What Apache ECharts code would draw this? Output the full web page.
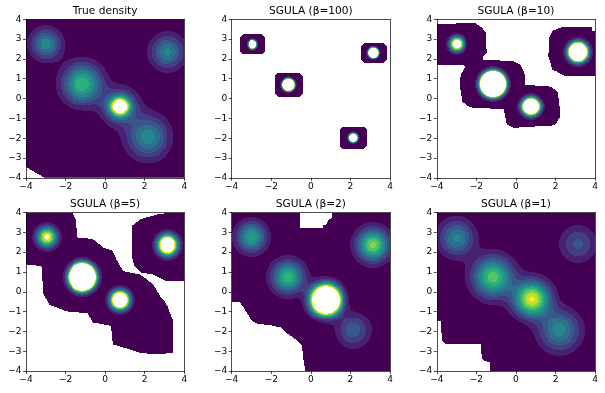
<!DOCTYPE html>
<html><head><meta charset="utf-8">
<script src="https://cdn.jsdelivr.net/npm/echarts@6/dist/echarts.min.js"></script>
<style>html,body{margin:0;padding:0;background:#fff}#c{width:605px;height:393px}</style>
</head><body><div id="c"></div>
<script>
// ---------- data ----------
const titles = ['True density', 'SGULA (β=100)', 'SGULA (β=10)', 'SGULA (β=5)', 'SGULA (β=2)', 'SGULA (β=1)'];
const xTicks = [-4, -2, 0, 2, 4];
const yTicks = [-4, -3, -2, -1, 0, 1, 2, 3, 4];
// density components: [x, y, peak (fraction of top contour level), sigma]
const modesTrue = [[-3.0, 2.75, 0.47, 0.51], [-1.15, 0.75, 0.66, 0.67], [0.75, -0.4, 1.2, 0.3], [0.75, -0.4, 0.45, 0.6], [2.15, -1.95, 0.47, 0.71], [3.15, 2.35, 0.44, 0.58]];
const modesB100 = [[-2.95, 2.73, 4.9, 0.112], [-1.13, 0.71, 13.3, 0.132], [3.17, 2.31, 10.1, 0.116], [2.16, -1.99, 4.9, 0.112]];
const modesB10 = [[-3.0, 2.75, 1.46, 0.23], [-1.15, 0.75, 12.8, 0.284], [0.75, -0.4, 3.33, 0.258], [3.15, 2.35, 4.05, 0.269]];
const modesB5 = [[-2.95, 2.75, 1.05, 0.33], [-1.15, 0.75, 8.5, 0.33], [0.75, -0.4, 2.23, 0.29], [3.15, 2.35, 1.97, 0.32]];
const modesB2 = [[-3.0, 2.75, 0.58, 0.51], [-1.15, 0.75, 0.66, 0.54], [0.75, -0.4, 3.3, 0.44], [2.15, -1.95, 0.3, 0.59], [3.15, 2.35, 0.78, 0.54]];
const modesB1 = [[-3.0, 2.7, 0.44, 0.61], [-1.15, 0.75, 0.72, 0.67], [0.8, -0.35, 0.93, 0.6], [2.2, -1.95, 0.47, 0.7], [3.15, 2.4, 0.27, 0.62]];
// regions with no estimate (white) or the only regions with an estimate
const cutTrue = [[[-4, -3.45], [-3.05, -4], [-4, -4]]];
const boxesB100 = [[-3.58, -2.31, 2.23, 3.24], [-1.81, -0.42, 0.12, 1.3], [2.55, 3.85, 1.81, 2.78], [1.45, 2.84, -2.55, -1.43]];
const keepB10 = [
  [[-4, 3.75], [-2.06, 3.8], [-1.72, 3.58], [-1.5, 3.33], [-1.47, 2.31], [-1.64, 2.14], [-1.64, 1.97], [-0.12, 1.89], [0.22, 1.72], [0.42, 1.3], [0.47, 0.71], [1.73, 0.62], [2.08, 0.37], [2.21, -0.05], [2.25, -0.98], [1.9, -1.37], [-0.12, -1.49], [-0.46, -1.32], [-0.62, -0.56], [-2.31, -0.47], [-2.73, -0.14], [-2.85, 0.62], [-2.82, 1.21], [-2.57, 1.64], [-2.75, 1.72], [-4, 1.72]],
  [[1.65, 3.07], [1.82, 3.41], [2.33, 3.58], [3.85, 3.58], [3.85, 3.41], [4, 3.41], [4, 1.13], [2.5, 1.16], [1.82, 1.47], [1.62, 2.14]]
];
const keepB5 = [
  [[-4, 4], [-1.64, 4], [-1.47, 3.66], [-1.38, 2.73], [-0.62, 2.65], [-0.3, 2.4], [-0.12, 2.23], [0.39, 2.06], [0.56, 1.64], [0.9, 1.05], [1.73, 0.88], [1.99, 0.71], [2.41, 0.37], [2.75, -0.2], [3.17, -0.71], [3.43, -1.4], [3.43, -3.09], [2.58, -3.17], [1.73, -3.09], [0.97, -2.84], [0.39, -2.67], [0.3, -1.74], [-0.62, -1.57], [-0.87, -1.06], [-1.97, -0.97], [-2.82, -0.64], [-3.16, -0.05], [-3.19, 1.13], [-3.24, 1.3], [-4, 1.38]],
  [[1.37, 3.33], [1.82, 3.66], [2.75, 3.91], [4, 4], [4, 0.54], [3.09, 0.54], [2.41, 0.88], [1.82, 0.96], [1.47, 1.3], [1.33, 1.82], [1.33, 3.0]]
];
const cutB2 = [
  [[-0.55, 4], [-0.55, 3.2], [0.6, 3.2], [0.62, 3.33], [0.8, 3.4], [0.85, 3.6], [1.05, 3.7], [1.05, 4]],
  [[-4, -0.5], [-3.63, -0.5], [-3.4, -0.8], [-3.25, -1.05], [-3.0, -1.45], [-2.75, -1.62], [-2.0, -1.72], [-1.5, -1.82], [-1.15, -2.15], [-0.72, -2.45], [-0.45, -2.75], [-0.38, -3.4], [-0.3, -3.9], [-0.28, -4], [-4, -4]]
];
const cutB1 = [[[-4, -1.52], [-3.8, -1.52], [-3.78, -2.0], [-3.75, -2.5], [-3.6, -2.63], [-1.74, -2.63], [-1.72, -3.35], [-1.6, -3.5], [-1.28, -3.55], [-1.28, -4], [-4, -4]]];

// ---------- helpers ----------
const N_LEVELS = 12;
const STEP = 0.05;
const FONT = 'DejaVu Sans';
const viridisStops = ['#440154', '#482475', '#414487', '#355f8d', '#2a788e', '#21918c', '#22a884', '#44bf70', '#7ad151', '#bddf26', '#fde725'];
function hex(c) { return [parseInt(c.slice(1, 3), 16), parseInt(c.slice(3, 5), 16), parseInt(c.slice(5, 7), 16)]; }
function viridis(t) {
  const p = t * (viridisStops.length - 1); const i = Math.min(Math.floor(p), viridisStops.length - 2); const f = p - i;
  const a = hex(viridisStops[i]), b = hex(viridisStops[i + 1]);
  return 'rgb(' + a.map((v, k) => Math.round(v + (b[k] - v) * f)).join(',') + ')';
}
const palette = Array.from({length: N_LEVELS}, (_, i) => viridis(i / (N_LEVELS - 1)));

function roundBox(b) {
  const [x0, x1, y0, y1] = b, c = 0.15;
  return [[x0 + c, y0], [x1 - c, y0], [x1, y0 + c], [x1, y1 - c], [x1 - c, y1], [x0 + c, y1], [x0, y1 - c], [x0, y0 + c]];
}
function inPoly(x, y, poly) {
  let inside = false;
  for (let i = 0, j = poly.length - 1; i < poly.length; j = i++) {
    const xi = poly[i][0], yi = poly[i][1], xj = poly[j][0], yj = poly[j][1];
    if (((yi > y) !== (yj > y)) && (x < (xj - xi) * (y - yi) / (yj - yi) + xi)) inside = !inside;
  }
  return inside;
}
function field(modes, x, y) {
  let v = 0;
  for (const m of modes) { const dx = x - m[0], dy = y - m[1]; v += m[2] * Math.exp(-(dx * dx + dy * dy) / (2 * m[3] * m[3])); }
  return v;
}
const lo = xTicks[0], hi = xTicks[xTicks.length - 1];
function buildRuns(panel) {
  const out = []; const n = Math.round((hi - lo) / STEP);
  for (let j = 0; j < n; j++) {
    const y = lo + (j + 0.5) * STEP; let cur = -1, start = 0;
    for (let i = 0; i <= n; i++) {
      let lvl = -1;
      if (i < n) {
        const x = lo + (i + 0.5) * STEP;
        let vis = panel.keep ? panel.keep.some(p => inPoly(x, y, p)) : true;
        if (vis && panel.cut) vis = !panel.cut.some(p => inPoly(x, y, p));
        if (vis) { const v = field(panel.modes, x, y); lvl = v >= 1 ? -1 : Math.floor(v * N_LEVELS); }
      }
      if (lvl !== cur) { if (cur >= 0) out.push([lo + start * STEP, lo + i * STEP, y, cur]); cur = lvl; start = i; }
    }
  }
  return out;
}
const panels = [
  {modes: modesTrue, cut: cutTrue},
  {modes: modesB100, keep: boxesB100.map(roundBox)},
  {modes: modesB10, keep: keepB10},
  {modes: modesB5, keep: keepB5},
  {modes: modesB2, cut: cutB2},
  {modes: modesB1, cut: cutB1}
];

// ---------- layout ----------
const colLeft = [26, 231.7, 436.8];
const rowTop = [19.3, 212.5];
const W = 158.3, H = 158.5;
const fmt = v => (v < 0 ? '\u2212' + (-v) : '' + v);
const grid = [], xAxis = [], yAxis = [], series = [], title = [];
panels.forEach((p, k) => {
  const r = Math.floor(k / 3), c = k % 3;
  grid.push({left: colLeft[c], top: rowTop[r], width: W, height: H, containLabel: false});
  const line = {show: true, onZero: false, lineStyle: {color: '#000', width: 0.7}};
  const tick = {show: true, length: 3, lineStyle: {color: '#000', width: 0.7}};
  const label = {fontSize: 9, fontFamily: FONT, color: '#000', margin: 4.5, formatter: fmt};
  xAxis.push({gridIndex: k, type: 'value', min: lo, max: hi, interval: xTicks[1] - xTicks[0], position: 'bottom', z: 5,
    axisLine: line, axisTick: tick, axisLabel: label, splitLine: {show: false}});
  xAxis.push({gridIndex: k, type: 'value', min: lo, max: hi, position: 'top', z: 5, axisLine: line,
    axisTick: {show: false}, axisLabel: {show: false}, splitLine: {show: false}});
  yAxis.push({gridIndex: k, type: 'value', min: yTicks[0], max: yTicks[yTicks.length - 1], interval: yTicks[1] - yTicks[0], position: 'left', z: 5,
    axisLine: line, axisTick: tick, axisLabel: label, splitLine: {show: false}});
  yAxis.push({gridIndex: k, type: 'value', min: yTicks[0], max: yTicks[yTicks.length - 1], position: 'right', z: 5, axisLine: line,
    axisTick: {show: false}, axisLabel: {show: false}, splitLine: {show: false}});
  title.push({text: titles[k], left: colLeft[c] + W / 2, top: rowTop[r] - 13.5, textAlign: 'center', padding: 0,
    textStyle: {fontSize: 10.6, fontFamily: FONT, fontWeight: 'normal', color: '#000'}});
  series.push({
    type: 'custom', xAxisIndex: 2 * k, yAxisIndex: 2 * k, clip: true, silent: true, animation: false,
    progressive: 0, progressiveThreshold: 1e9,
    encode: {x: [0, 1], y: 2}, data: buildRuns(p),
    renderItem: function (params, api) {
      const y = api.value(2), h = STEP / 2;
      const a = api.coord([api.value(0), y + h]);
      const b = api.coord([api.value(1), y - h]);
      const x0 = Math.round(a[0]), x1 = Math.round(b[0]), y0 = Math.round(a[1]), y1 = Math.round(b[1]);
      if (x1 <= x0 || y1 <= y0) return null;
      return {type: 'rect', shape: {x: x0, y: y0, width: x1 - x0, height: y1 - y0},
        style: {fill: palette[api.value(3)], opacity: 1}};
    }
  });
});
const chart = echarts.init(document.getElementById('c'), null, {renderer: 'canvas'});
chart.setOption({animation: false, backgroundColor: '#fff', hoverLayerThreshold: Infinity, title, grid, xAxis, yAxis, series});
</script></body></html>
